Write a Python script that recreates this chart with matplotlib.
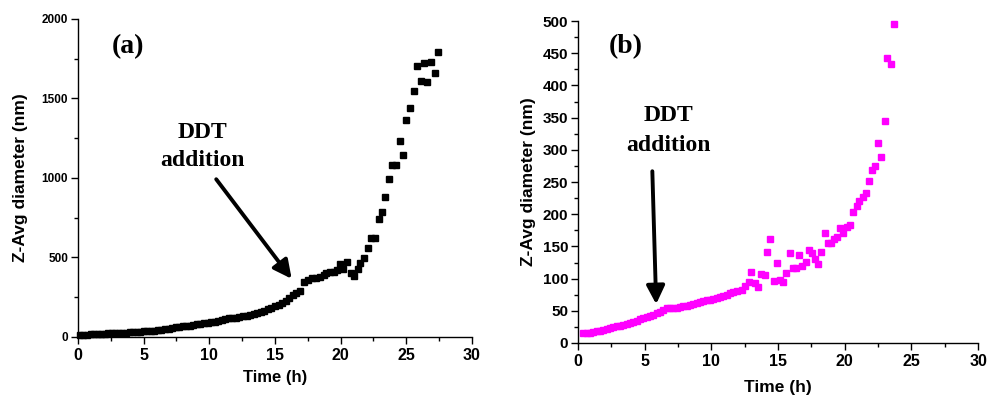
import matplotlib
matplotlib.use("Agg")
import matplotlib.pyplot as plt
from matplotlib.ticker import MultipleLocator

# panel (a): Z-average diameter vs time, black squares
time_a = [0.15, 0.42, 0.69, 0.96, 1.23, 1.5, 1.77, 2.04, 2.31, 2.58, 2.85, 3.12, 3.39,
          3.66, 3.93, 4.2, 4.47, 4.74, 5.01, 5.28, 5.55, 5.82, 6.09, 6.36, 6.63, 6.9,
          7.17, 7.44, 7.71, 7.98, 8.25, 8.52, 8.79, 9.06, 9.33, 9.6, 9.87, 10.14, 10.41,
          10.68, 10.95, 11.22, 11.49, 11.76, 12.03, 12.3, 12.57, 12.84, 13.11, 13.38,
          13.65, 13.92, 14.19, 14.46, 14.73, 15.0, 15.27, 15.54, 15.81, 16.08, 16.35,
          16.62, 16.89,
          17.24, 17.5, 17.8, 18.1, 18.4, 18.7, 18.9, 19.2, 19.5, 19.7, 19.95, 20.2, 20.5,
          20.8, 21.0, 21.3, 21.5, 21.8, 22.1, 22.3, 22.6, 22.9, 23.15, 23.4, 23.7, 23.9,
          24.2, 24.5, 24.75, 25.0, 25.3, 25.6, 25.8, 26.1, 26.35, 26.6, 26.9, 27.2, 27.4]
size_a = [10, 12, 14, 16, 17, 18, 19, 21, 22, 26, 25, 26, 27,
          28, 31, 31, 32, 33, 35, 36, 37, 40, 42, 46, 50, 53,
          56, 60, 63, 66, 69, 72, 75, 79, 83, 86, 90, 94, 97,
          101, 105, 110, 118, 120, 122, 125, 130, 135, 140, 146,
          152, 159, 166, 174, 183, 193, 204, 216, 229, 243, 262,
          274, 288,
          348, 360, 369, 369, 380, 390, 401, 411, 411, 422, 458, 426, 474,
          405, 384, 426, 464, 499, 562, 625, 625, 741, 783, 880, 995, 1079,
          1079, 1230, 1142, 1362, 1442, 1549, 1702, 1610, 1721, 1601, 1730, 1662, 1794]

# panel (b): magenta squares
time_b = [0.4, 0.65, 0.9, 1.15, 1.4, 1.65, 1.9, 2.15, 2.4, 2.65, 2.9, 3.15, 3.4, 3.65,
          3.9, 4.15, 4.4, 4.65, 4.9, 5.15, 5.4, 5.65, 5.9, 6.15, 6.4, 6.65, 6.9, 7.15,
          7.4, 7.65, 7.9, 8.15, 8.4, 8.65, 8.9, 9.15, 9.4, 9.65, 9.9, 10.15, 10.4, 10.65,
          10.9, 11.15, 11.4, 11.65, 11.9,
          12.28, 12.5, 12.8, 13.0, 13.25, 13.5, 13.7, 14.0, 14.2, 14.4, 14.7, 14.9, 15.15,
          15.4, 15.6, 15.9, 16.1, 16.35, 16.6, 16.8, 17.1, 17.3, 17.55, 17.8, 18.0, 18.2,
          18.5, 18.75, 19.0, 19.2, 19.4, 19.65, 19.9, 20.15, 20.4, 20.65, 20.9, 21.1,
          21.35, 21.6, 21.8, 22.05, 22.3, 22.5, 22.75, 23.0, 23.2, 23.45, 23.7]
size_b = [15, 15.5, 16, 17, 18, 19, 20, 21.5, 23, 24.5, 26, 27, 28.5, 30,
          31.5, 33, 34.5, 36.5, 38.5, 40, 42, 44, 46, 48.5, 51, 54, 54.5, 54.5,
          55, 56, 57, 58, 59, 60.5, 62, 63, 64.5, 66, 67, 68.5, 70, 72,
          73.5, 75, 77, 79, 81,
          82, 88.5, 95, 110, 93, 86.5, 107, 105.6, 141, 161.5, 97, 124, 98,
          94, 108, 139, 117, 116, 136, 119.5, 126, 144, 139, 130, 122, 142,
          171, 155, 155, 161.5, 165, 178, 171, 180.6, 184, 204, 212, 220.5,
          226, 233, 252, 268.6, 275, 311, 289, 345, 443, 433, 495]

sans = "Liberation Sans"
serif = "Liberation Serif"

fig = plt.figure(figsize=(9.88, 3.98), dpi=100)

def style_axes(ax, ymax, ymajor, yminor, ytick_size):
    ax.set_xlim(0, 30)
    ax.set_ylim(0, ymax)
    ax.spines["top"].set_visible(False)
    ax.spines["right"].set_visible(False)
    for s in ("left", "bottom"):
        ax.spines[s].set_linewidth(1.0)
    ax.xaxis.set_major_locator(MultipleLocator(5))
    ax.xaxis.set_minor_locator(MultipleLocator(2.5))
    ax.yaxis.set_major_locator(MultipleLocator(ymajor))
    ax.yaxis.set_minor_locator(MultipleLocator(yminor))
    ax.tick_params(which="major", direction="out", length=5, width=1)
    ax.tick_params(which="minor", direction="out", length=3, width=1)
    ax.tick_params(axis="x", labelsize=11.5, pad=3)
    ax.tick_params(axis="y", labelsize=ytick_size, pad=2)
    for lab in ax.get_xticklabels() + ax.get_yticklabels():
        lab.set_fontfamily(sans)
        lab.set_fontweight("bold")

arrow_style = dict(arrowstyle="-|>,head_length=1.1,head_width=0.55", lw=2.8, color="black")

# (a)
ax1 = fig.add_axes([0.0789, 0.1533, 0.3988, 0.799])
ax1.plot(time_a, size_a, "s", color="black", markersize=4.5, clip_on=False)
style_axes(ax1, 2000, 500, 250, 8.5)
ax1.set_xlabel("Time (h)", fontfamily=sans, fontweight="bold", fontsize=12, labelpad=5)
ax1.set_ylabel("Z-Avg diameter (nm)", fontfamily=sans, fontweight="bold", fontsize=12.5, labelpad=10)
ax1.text(3.8, 1824, "(a)", fontfamily=serif, fontweight="bold", fontsize=20, ha="center", va="center")
ax1.text(9.5, 1283, "DDT", fontfamily=serif, fontweight="bold", fontsize=17, ha="center", va="center")
ax1.text(9.5, 1113, "addition", fontfamily=serif, fontweight="bold", fontsize=17, ha="center", va="center")
ax1.annotate("", xy=(16.4, 352), xytext=(10.4, 1006), arrowprops=arrow_style)

# (b)
ax2 = fig.add_axes([0.585, 0.1382, 0.4049, 0.809])
ax2.plot(time_b, size_b, "s", color="#ff00ff", markersize=4.6, clip_on=False)
style_axes(ax2, 500, 50, 25, 11)
ax2.set_xlabel("Time (h)", fontfamily=sans, fontweight="bold", fontsize=12.5, labelpad=8)
ax2.set_ylabel("Z-Avg diameter (nm)", fontfamily=sans, fontweight="bold", fontsize=12.5, labelpad=5)
ax2.text(3.6, 460, "(b)", fontfamily=serif, fontweight="bold", fontsize=20, ha="center", va="center")
ax2.text(6.8, 354, "DDT", fontfamily=serif, fontweight="bold", fontsize=17, ha="center", va="center")
ax2.text(6.8, 307, "addition", fontfamily=serif, fontweight="bold", fontsize=17, ha="center", va="center")
ax2.annotate("", xy=(5.87, 56), xytext=(5.57, 271), arrowprops=arrow_style)

fig.savefig("out.png", dpi=100)
